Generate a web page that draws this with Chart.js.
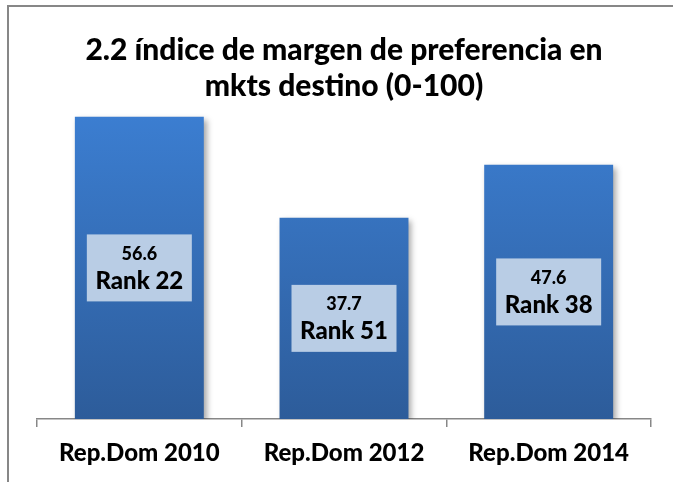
<!DOCTYPE html>
<html>
<head>
<meta charset="utf-8">
<script src="https://cdn.jsdelivr.net/npm/chart.js@4"></script>
<style>
  body { margin: 0; background: #fff; }
  #wrap { width: 673px; height: 482px; position: relative; }
</style>
</head>
<body>
<div id="wrap"><canvas id="myChart"></canvas></div>
<script>
const categories = ['Rep.Dom 2010', 'Rep.Dom 2012', 'Rep.Dom 2014'];
const scores = [56.6, 37.7, 47.6];
const ranks = [22, 51, 38];

// frame around the chart (cropped on the right and bottom)
const framePlugin = {
  id: 'frame',
  beforeDraw(chart) {
    const ctx = chart.ctx;
    ctx.save();
    ctx.strokeStyle = '#878787';
    ctx.lineWidth = 2;
    ctx.strokeRect(8, 6, 720, 520);
    ctx.restore();
  }
};

// soft shadow behind the bars
const shadowPlugin = {
  id: 'barShadow',
  beforeDatasetsDraw(chart) {
    const ctx = chart.ctx;
    ctx.save();
    ctx.shadowColor = 'rgba(0,0,0,0.35)';
    ctx.shadowBlur = 6;
    ctx.shadowOffsetX = 3;
    ctx.shadowOffsetY = 3;
  },
  afterDatasetsDraw(chart) {
    chart.ctx.restore();
  }
};

// value + rank box in the middle of each bar
const boxPlugin = {
  id: 'rankBoxes',
  afterDatasetsDraw(chart) {
    const ctx = chart.ctx;
    const meta = chart.getDatasetMeta(0);
    meta.data.forEach((bar, i) => {
      const cx = bar.x;
      const cy = (bar.y + bar.base) / 2;
      const w = 105, h = 67;
      ctx.save();
      ctx.fillStyle = '#b9cde5';
      ctx.fillRect(cx - w / 2, cy - h / 2, w, h);
      ctx.fillStyle = '#000';
      ctx.textAlign = 'center';
      ctx.textBaseline = 'middle';
      ctx.font = '900 18px Lato';
      ctx.fillText(scores[i].toFixed(1), cx, cy - 14);
      ctx.font = '900 24px Lato';
      ctx.fillText('Rank ' + ranks[i], cx, cy + 13);
      ctx.restore();
    });
  }
};

new Chart('myChart', {
  type: 'bar',
  data: {
    labels: categories,
    datasets: [{
      data: scores,
      backgroundColor(context) {
        const area = context.chart.chartArea;
        if (!area) return '#3a7bcb';
        const g = context.chart.ctx.createLinearGradient(0, area.top, 0, area.bottom);
        g.addColorStop(0, '#3c7fd3');
        g.addColorStop(1, '#2d5c9a');
        return g;
      },
      borderWidth: 0,
      categoryPercentage: 1,
      barPercentage: 0.63
    }]
  },
  options: {
    responsive: true,
    maintainAspectRatio: false,
    animation: false,
    layout: { padding: { left: 37, right: 22, top: 0, bottom: 0 } },
    plugins: {
      legend: { display: false },
      tooltip: { enabled: false },
      title: {
        display: true,
        text: ['2.2 índice de margen de preferencia en', 'mkts destino (0-100)'],
        color: '#000',
        font: { family: 'Lato', size: 30, weight: 900, lineHeight: 1.2 },
        padding: { top: 32, bottom: 0 }
      }
    },
    scales: {
      y: { display: false, min: 0, max: 59 },
      x: {
        afterFit(scale) { scale.height = 63; },
        border: { color: '#878787', width: 1.5 },
        grid: { drawOnChartArea: false, drawTicks: true, tickLength: 8, color: '#878787', lineWidth: 1.5 },
        ticks: { color: '#000', padding: 12, font: { family: 'Lato', size: 24, weight: 900 } }
      }
    }
  },
  plugins: [framePlugin, shadowPlugin, boxPlugin]
});
</script>
</body>
</html>
